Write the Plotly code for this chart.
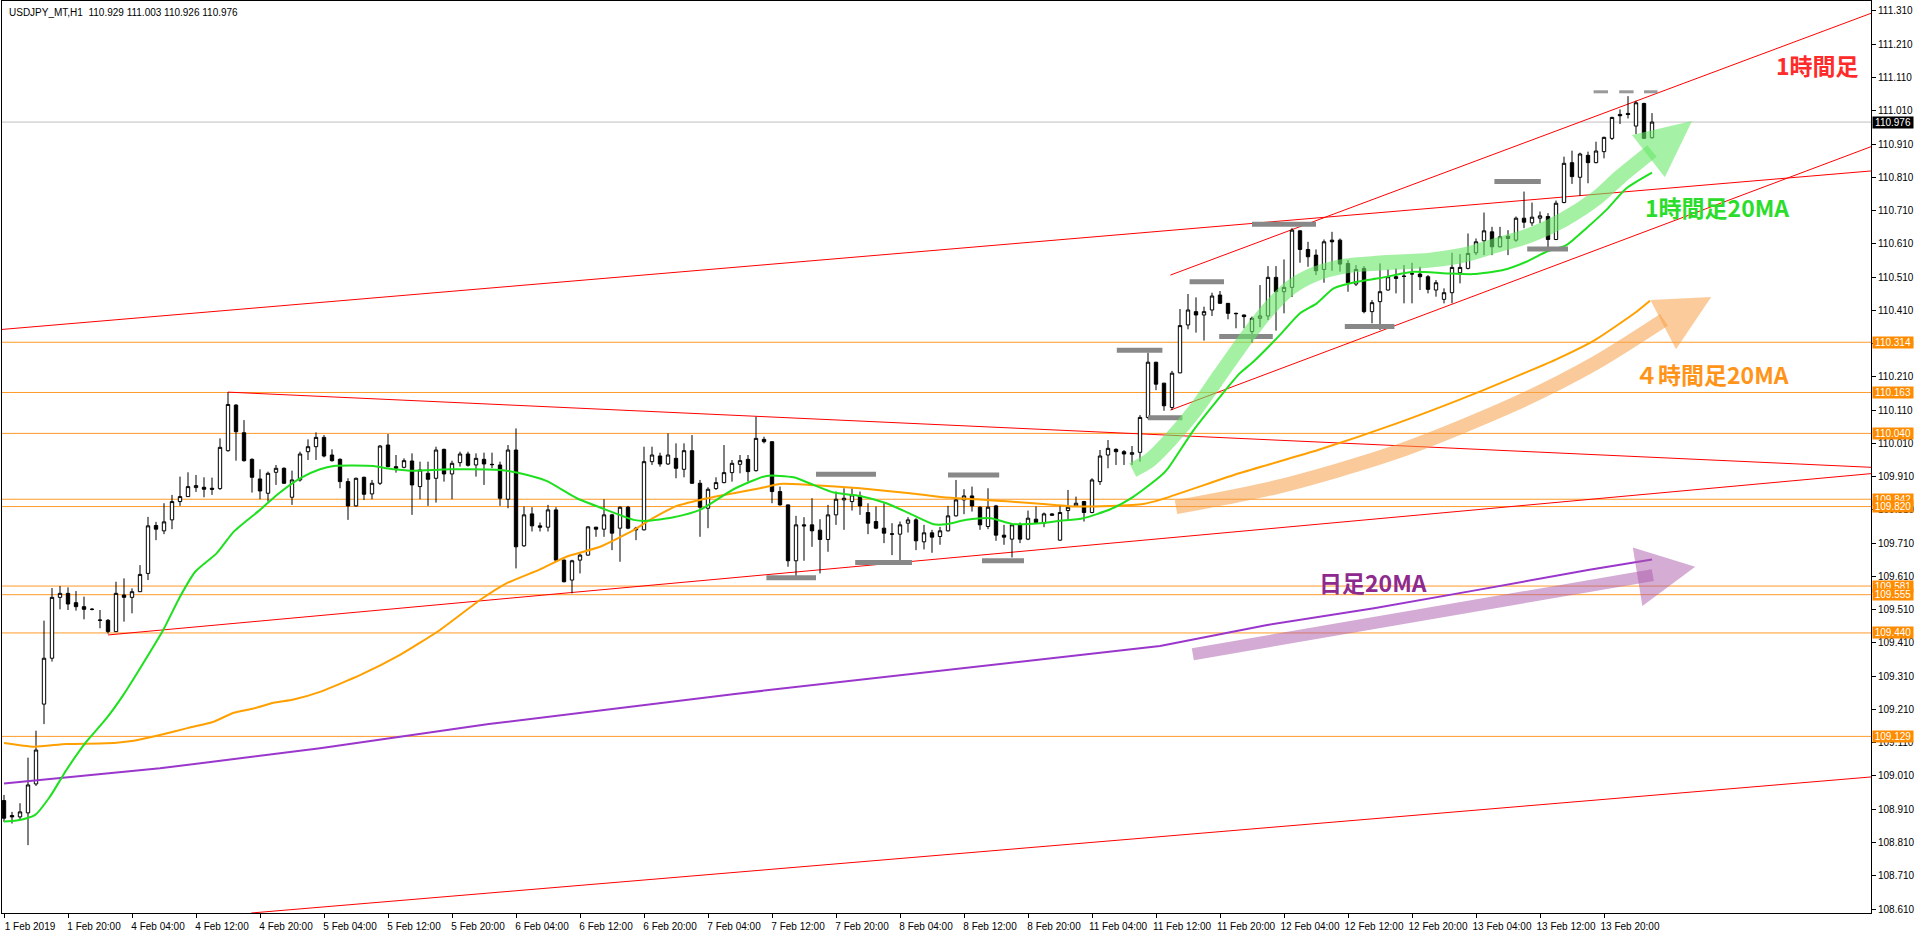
import plotly.graph_objects as go

# ---------------- data ----------------
opens = [108.936,108.891,108.887,108.899,108.986,109.226,109.364,109.547,109.559,109.531,
109.519,109.511,109.479,109.478,109.444,109.554,109.547,109.564,109.619,109.763,
109.747,109.780,109.835,109.850,109.877,109.878,109.875,109.874,109.988,110.125,
110.042,109.962,109.903,109.860,109.923,109.935,109.848,109.900,109.985,110.000,
110.028,109.975,109.962,109.895,109.822,109.908,109.858,109.890,110.005,109.940,
109.938,109.957,109.880,109.920,109.905,109.992,109.918,109.952,109.978,109.945,
109.962,109.947,109.945,109.842,109.990,109.702,109.798,109.762,109.758,109.810,
109.659,109.599,109.659,109.674,109.758,109.752,109.795,109.755,109.818,109.755,
109.750,109.955,109.972,109.948,109.965,109.932,109.988,109.890,109.815,109.874,
109.892,109.922,109.947,109.962,109.928,110.022,110.015,109.865,109.825,109.657,
109.765,109.765,109.749,109.721,109.795,109.840,109.835,109.852,109.802,109.775,
109.755,109.738,109.737,109.770,109.780,109.714,109.741,109.730,109.747,109.792,
109.840,109.852,109.818,109.760,109.822,109.734,109.722,109.765,109.722,109.782,
109.770,109.798,109.719,109.808,109.822,109.835,109.802,109.895,109.975,109.992,
109.985,109.977,109.983,110.088,110.254,110.191,110.118,110.222,110.366,110.406,
110.396,110.411,110.456,110.431,110.401,110.396,110.346,110.386,110.393,110.509,
110.466,110.479,110.649,110.593,110.576,110.533,110.621,110.621,110.551,110.489,
110.536,110.406,110.436,110.471,110.511,110.513,110.519,110.519,110.511,110.471,
110.443,110.463,110.523,110.536,110.583,110.619,110.646,110.601,110.633,110.621,
110.687,110.673,110.687,110.692,110.623,110.734,110.854,110.810,110.876,110.854,
110.887,110.927,110.999,111.002,110.964,111.032,110.929]
highs = [108.953,108.902,108.928,109.065,109.146,109.477,109.575,109.581,109.577,109.566,
109.549,109.515,109.509,109.482,109.594,109.604,109.574,109.644,109.789,109.774,
109.830,109.855,109.910,109.923,109.915,109.908,109.907,110.025,110.164,110.128,
110.080,109.965,109.932,109.925,109.945,109.938,109.928,109.985,110.022,110.043,
110.035,109.992,109.965,109.905,109.907,109.910,109.900,110.005,110.038,109.975,
109.965,109.980,109.955,109.955,110.000,109.994,109.958,109.985,109.985,109.980,
109.982,109.982,109.955,110.005,110.055,109.820,109.818,109.772,109.825,109.818,
109.661,109.660,109.679,109.761,109.759,109.842,109.798,109.820,109.822,109.759,
110.000,110.000,109.982,110.040,110.010,110.010,110.035,109.900,109.878,109.908,
110.005,109.960,109.975,109.975,110.090,110.030,110.016,109.880,109.826,109.792,
109.788,109.845,109.782,109.825,109.865,109.875,109.875,109.865,109.830,109.820,
109.830,109.770,109.775,109.788,109.785,109.765,109.750,109.759,109.822,109.900,
109.872,109.880,109.820,109.875,109.825,109.765,109.767,109.772,109.808,109.820,
109.802,109.800,109.825,109.870,109.850,109.837,109.905,109.990,110.020,109.995,
109.990,110.002,110.095,110.283,110.255,110.192,110.228,110.414,110.459,110.449,
110.421,110.463,110.468,110.432,110.403,110.397,110.391,110.486,110.543,110.543,
110.563,110.657,110.651,110.616,110.593,110.623,110.646,110.626,110.561,110.546,
110.543,110.441,110.551,110.533,110.536,110.546,110.553,110.541,110.516,110.501,
110.476,110.583,110.579,110.641,110.626,110.704,110.661,110.661,110.651,110.692,
110.767,110.734,110.707,110.702,110.740,110.872,110.890,110.884,110.887,110.917,
110.932,110.992,111.014,111.054,111.040,111.034,111.003]
lows = [108.872,108.867,108.878,108.802,108.980,109.166,109.354,109.511,109.509,109.507,
109.481,109.508,109.454,109.438,109.444,109.474,109.499,109.564,109.599,109.719,
109.737,109.752,109.822,109.850,109.864,109.848,109.855,109.870,109.985,109.958,
109.955,109.862,109.842,109.835,109.885,109.888,109.825,109.895,109.960,109.960,
109.968,109.955,109.875,109.780,109.820,109.840,109.842,109.885,109.938,109.922,
109.935,109.795,109.842,109.822,109.832,109.895,109.842,109.940,109.940,109.910,
109.885,109.935,109.822,109.815,109.634,109.699,109.745,109.745,109.745,109.654,
109.592,109.559,109.619,109.672,109.729,109.729,109.689,109.654,109.752,109.719,
109.748,109.945,109.940,109.945,109.905,109.908,109.888,109.729,109.755,109.870,
109.890,109.895,109.920,109.895,109.925,110.010,109.830,109.823,109.639,109.609,
109.657,109.699,109.619,109.684,109.765,109.750,109.808,109.795,109.737,109.752,
109.710,109.674,109.647,109.742,109.689,109.691,109.681,109.705,109.745,109.790,
109.797,109.805,109.750,109.752,109.717,109.705,109.667,109.710,109.719,109.770,
109.758,109.792,109.717,109.780,109.820,109.775,109.800,109.885,109.935,109.945,
109.945,109.945,109.955,110.083,110.170,110.108,110.110,110.221,110.353,110.343,
110.319,110.393,110.430,110.383,110.356,110.356,110.313,110.359,110.381,110.349,
110.401,110.450,110.553,110.541,110.516,110.493,110.529,110.526,110.466,110.483,
110.401,110.371,110.351,110.469,110.461,110.431,110.431,110.471,110.461,110.451,
110.431,110.431,110.491,110.533,110.576,110.576,110.576,110.599,110.576,110.616,
110.657,110.664,110.672,110.596,110.621,110.732,110.790,110.754,110.792,110.852,
110.867,110.922,110.970,110.987,110.940,110.925,110.926]
closes = [108.883,108.887,108.902,108.983,109.088,109.364,109.547,109.559,109.527,109.519,
109.511,109.511,109.478,109.444,109.559,109.547,109.564,109.616,109.762,109.752,
109.774,109.835,109.850,109.880,109.883,109.872,109.872,109.998,110.127,110.045,
109.958,109.908,109.867,109.920,109.935,109.890,109.900,109.978,110.000,110.028,
109.972,109.958,109.895,109.822,109.905,109.857,109.890,110.002,109.940,109.935,
109.958,109.885,109.930,109.902,109.990,109.918,109.950,109.978,109.944,109.965,
109.948,109.946,109.845,109.990,109.699,109.795,109.762,109.758,109.810,109.659,
109.594,109.657,109.674,109.759,109.752,109.795,109.740,109.818,109.755,109.750,
109.955,109.975,109.948,109.975,109.935,109.988,109.890,109.818,109.872,109.892,
109.922,109.950,109.958,109.925,110.025,110.015,109.865,109.825,109.657,109.765,
109.762,109.747,109.721,109.795,109.842,109.845,109.855,109.822,109.770,109.755,
109.740,109.737,109.765,109.780,109.717,109.741,109.728,109.747,109.792,109.840,
109.852,109.822,109.765,109.818,109.734,109.728,109.765,109.722,109.785,109.772,
109.798,109.794,109.802,109.818,109.830,109.802,109.900,109.972,109.995,109.985,
109.978,109.982,110.088,110.254,110.188,110.123,110.221,110.364,110.411,110.396,
110.406,110.453,110.431,110.401,110.400,110.391,110.386,110.393,110.509,110.466,
110.479,110.651,110.593,110.571,110.529,110.616,110.616,110.549,110.493,110.533,
110.406,110.433,110.466,110.511,110.506,110.512,110.520,110.511,110.473,110.493,
110.463,110.539,110.539,110.581,110.616,110.649,110.601,110.631,110.626,110.687,
110.675,110.690,110.694,110.623,110.732,110.852,110.812,110.880,110.854,110.889,
110.930,110.990,110.995,110.999,111.034,110.927,110.976]
bar_index = list(range(len(opens)))

time_labels = ["1 Feb 2019", "1 Feb 20:00", "4 Feb 04:00", "4 Feb 12:00", "4 Feb 20:00",
               "5 Feb 04:00", "5 Feb 12:00", "5 Feb 20:00", "6 Feb 04:00", "6 Feb 12:00",
               "6 Feb 20:00", "7 Feb 04:00", "7 Feb 12:00", "7 Feb 20:00", "8 Feb 04:00",
               "8 Feb 12:00", "8 Feb 20:00", "11 Feb 04:00", "11 Feb 12:00", "11 Feb 20:00",
               "12 Feb 04:00", "12 Feb 12:00", "12 Feb 20:00", "13 Feb 04:00", "13 Feb 12:00",
               "13 Feb 20:00"]
time_label_bars = [8 * i for i in range(len(time_labels))]

# 1H 20MA (green)
ma1h_bar = [0, 1.6, 3.9, 5.75, 7.8, 10.3, 12.8, 14.9, 17.4, 19.9, 22, 23.9, 26.6, 28.7, 32,
            34.1, 37, 39.5, 41.2, 46.2, 47.8, 50.75, 55.75, 62, 64.5, 67.8, 71.6, 75.3, 78.7,
            80.3, 83.7, 87, 91.2, 95.3, 98.7, 101.2, 103.7, 107, 110.3, 113.3, 116.2, 117.8,
            120.3, 123.3, 126.2, 129.5, 132, 134.9, 138.3, 141.2, 144.5, 145.5, 148.7, 152,
            154.4, 156.2, 159.5, 162, 164.1, 166.2, 169.1, 172, 176.2, 180.3, 183.7, 187.4,
            190.3, 192.8, 195.3, 197.8, 200.3, 202.8, 206]
ma1h_val = [108.873, 108.876, 108.893, 108.948, 109.028, 109.113, 109.183, 109.253, 109.349,
            109.449, 109.549, 109.624, 109.680, 109.744, 109.810, 109.855, 109.905, 109.932,
            109.942, 109.942, 109.935, 109.928, 109.932, 109.930, 109.920, 109.897, 109.845,
            109.810, 109.780, 109.777, 109.788, 109.810, 109.872, 109.912, 109.908, 109.885,
            109.862, 109.852, 109.830, 109.798, 109.767, 109.767, 109.780, 109.785, 109.767,
            109.770, 109.777, 109.785, 109.812, 109.850, 109.910, 109.935, 110.050, 110.150,
            110.219, 110.256, 110.336, 110.401, 110.431, 110.476, 110.496, 110.507, 110.526,
            110.521, 110.519, 110.531, 110.556, 110.586, 110.606, 110.657, 110.712, 110.777,
            110.824]
# 4H 20MA (orange)
ma4h_bar = [0, 3.7, 7.8, 12.8, 16.2, 19.5, 22.8, 26.2, 28.7, 31.2, 33.7, 36.2, 39.5, 44.5,
            49.5, 54.5, 59.5, 62.8, 67, 70.3, 74.5, 78.7, 80.75, 84.1, 87, 91.2, 94.5, 97,
            100.75, 107, 113.25, 117.4, 121.6, 125.75, 129.9, 134.1, 138.25, 142.4, 144.5,
            154.4, 164.25, 174.1, 184, 193.9, 198.9, 203.8, 205.75]
ma4h_val = [109.109, 109.098, 109.106, 109.108, 109.116, 109.133, 109.153, 109.173, 109.200,
            109.213, 109.230, 109.240, 109.263, 109.313, 109.374, 109.449, 109.539, 109.589,
            109.631, 109.669, 109.699, 109.749, 109.780, 109.822, 109.840, 109.860, 109.875,
            109.888, 109.885, 109.875, 109.860, 109.848, 109.842, 109.835, 109.828, 109.820,
            109.822, 109.828, 109.840, 109.920, 109.990, 110.070, 110.161, 110.261, 110.321,
            110.401, 110.439]
# Daily 20MA (purple)
ma1d_bar = [0, 19.5, 39.5, 60.6, 91.1, 121.75, 144.5, 157.9, 171.25, 184.6, 198, 206]
ma1d_val = [108.987, 109.033, 109.093, 109.166, 109.256, 109.338, 109.401, 109.464, 109.514,
            109.571, 109.629, 109.661]

level_prices = [110.314, 110.163, 110.040, 109.842, 109.820, 109.581, 109.555, 109.440, 109.129]
last_price = 110.976
ohlc_header = "USDJPY_MT,H1\u00a0\u00a0110.929 111.003 110.926 110.976"

# trend lines: (bar0, price0, bar1, price1)
trend_lines = [
    (-0.5, 110.352, 233.375, 110.829),
    (30.9, 108.598, 233.375, 109.007),
    (145.8, 110.516, 233.375, 111.303),
    (145.8, 110.110, 233.375, 110.902),
    (28, 110.164, 233.375, 109.938),
    (13, 109.434, 233.375, 109.919),
]
# support / resistance marks: (bar0, bar1, price)
sr_marks = [(101.5, 109, 109.917), (118, 124.4, 109.915), (106.4, 113.5, 109.652),
            (122.25, 127.5, 109.657), (95.3, 101.5, 109.606), (139.1, 144.8, 110.290),
            (143, 147.3, 110.087), (148.2, 152.5, 110.496), (151.9, 158.6, 110.331),
            (156, 164, 110.669), (167.6, 173.8, 110.361), (186.3, 192.1, 110.797),
            (190.4, 195.5, 110.594)]
top_marks = [(198.7, 200.5, 111.067), (201.9, 203.7, 111.067), (205, 206.7, 111.067)]

# hand-drawn arrows
green_arrow_bar = [141.1, 143.25, 145.75, 148.9, 152, 155.1, 158, 160.75, 163.9, 167.6, 172,
                   178.25, 182.4, 186.6, 190.75, 194.9, 199.1, 202, 206]
green_arrow_val = [109.930, 109.960, 110.020, 110.110, 110.216, 110.321, 110.411, 110.477,
                   110.519, 110.543, 110.552, 110.561, 110.576, 110.606, 110.636, 110.682,
                   110.748, 110.811, 110.889]
green_head_bar = [203.5, 211, 207.6]
green_head_val = [110.937, 110.979, 110.810]
orange_arrow_bar = [146.5, 159.3, 174.15, 189, 198.9, 207.5]
orange_arrow_val = [109.818, 109.880, 109.985, 110.130, 110.251, 110.381]
orange_head_bar = [205.8, 213.4, 209]
orange_head_val = [110.441, 110.450, 110.293]
purple_arrow_bar = [148.6, 206.1]
purple_arrow_val = [109.376, 109.614]
purple_head_bar = [203.6, 211.4, 204.8]
purple_head_val = [109.697, 109.639, 109.521]

# ---------------- figure ----------------
fig = go.Figure()

fig.add_trace(go.Candlestick(
    x=bar_index, open=opens, high=highs, low=lows, close=closes,
    increasing=dict(line=dict(color="black", width=1), fillcolor="white"),
    decreasing=dict(line=dict(color="black", width=1), fillcolor="black"),
    whiskerwidth=0, hoverinfo="skip"))

fig.add_trace(go.Scatter(x=ma1d_bar, y=ma1d_val, mode="lines",
                         line=dict(color="#9A36CC", width=2), hoverinfo="skip"))
fig.add_trace(go.Scatter(x=ma4h_bar, y=ma4h_val, mode="lines",
                         line=dict(color="#FFA000", width=2, shape="spline", smoothing=0.5),
                         hoverinfo="skip"))
fig.add_trace(go.Scatter(x=ma1h_bar, y=ma1h_val, mode="lines",
                         line=dict(color="#1EE01E", width=2, shape="spline", smoothing=0.6),
                         hoverinfo="skip"))

def seg_xy(marks):
    xs, ys = [], []
    for b0, b1, p in marks:
        xs += [b0, b1, None]
        ys += [p, p, None]
    return xs, ys

mx, my = seg_xy(sr_marks)
fig.add_trace(go.Scatter(x=mx, y=my, mode="lines", line=dict(color="#888888", width=5),
                         hoverinfo="skip"))
tx, ty = seg_xy(top_marks)
fig.add_trace(go.Scatter(x=tx, y=ty, mode="lines", line=dict(color="#999999", width=3),
                         hoverinfo="skip"))

def arrow(bx, by, hx, hy, color, width, op):
    fig.add_trace(go.Scatter(x=bx, y=by, mode="lines", opacity=op,
                             line=dict(color=color, width=width, shape="spline", smoothing=0.8),
                             hoverinfo="skip"))
    fig.add_trace(go.Scatter(x=hx + [hx[0]], y=hy + [hy[0]], mode="lines", fill="toself",
                             fillcolor=color, opacity=op, line=dict(width=0, color=color),
                             hoverinfo="skip"))

arrow(green_arrow_bar, green_arrow_val, green_head_bar, green_head_val, "rgb(105,232,105)", 15, 0.6)
arrow(orange_arrow_bar, orange_arrow_val, orange_head_bar, orange_head_val, "rgb(247,160,72)", 14, 0.55)
arrow(purple_arrow_bar, purple_arrow_val, purple_head_bar, purple_head_val, "rgb(170,90,170)", 12, 0.5)

shapes = []
for p in level_prices:
    shapes.append(dict(type="line", xref="paper", x0=0, x1=1, yref="y", y0=p, y1=p,
                       line=dict(color="#FF9A28", width=1), layer="below"))
shapes.append(dict(type="line", xref="paper", x0=0, x1=1, yref="y", y0=last_price, y1=last_price,
                   line=dict(color="#C0C0C0", width=1), layer="below"))
for b0, p0, b1, p1 in trend_lines:
    shapes.append(dict(type="line", xref="x", yref="y", x0=b0, y0=p0, x1=b1, y1=p1,
                       line=dict(color="#FF0000", width=1), layer="below"))

annotations = [
    dict(text=ohlc_header, xref="paper", yref="paper", x=0, y=1, xanchor="left", yanchor="top",
         xshift=5, yshift=-4, showarrow=False,
         font=dict(family="Liberation Sans", size=10, color="black")),
]
for p in level_prices:
    annotations.append(dict(text=f"{p:.3f}", xref="paper", x=1, xanchor="left", xshift=1,
                            yref="y", y=p, yanchor="middle", showarrow=False,
                            bgcolor="#FF8C00", width=40, height=11, borderpad=0,
                            font=dict(family="Liberation Sans", size=10, color="white")))
annotations.append(dict(text=f"{last_price:.3f}", xref="paper", x=1, xanchor="left", xshift=1,
                        yref="y", y=last_price, yanchor="middle", showarrow=False,
                        bgcolor="black", width=40, height=11, borderpad=0,
                        font=dict(family="Liberation Sans", size=10, color="white")))

jp_font = "Noto Sans CJK JP"
labels = [
    ("1時間足", 221.25, 111.148, "#FF2A2A"),
    ("1時間足20MA", 204.9, 110.721, "#2BDD2B"),
    ("４時間足20MA", 203.6, 110.220, "#FF9418"),
    ("日足20MA", 164.1, 109.594, "#8E2A8E"),
]
for t, b, p, c in labels:
    annotations.append(dict(text=f"<b>{t}</b>", x=b, y=p, xref="x", yref="y", xanchor="left",
                            yanchor="middle", showarrow=False,
                            font=dict(family=jp_font, size=23, color=c)))

tick_font = dict(family="Liberation Sans", size=10, color="black")
fig.update_layout(
    width=1916, height=933,
    margin=dict(l=2, r=45, t=1, b=20),
    plot_bgcolor="white", paper_bgcolor="white",
    showlegend=False, boxgap=0.4,
    shapes=shapes, annotations=annotations,
    xaxis=dict(range=[-0.25, 233.375], tickmode="array", tickvals=time_label_bars,
               ticktext=time_labels, ticks="outside", ticklen=4, tickcolor="black",
               showgrid=False, zeroline=False, showline=True, linecolor="black",
               linewidth=1, mirror=True, rangeslider=dict(visible=False),
               tickfont=tick_font, ticklabelshift=26, fixedrange=True),
    yaxis=dict(side="right", range=[108.598, 111.340], tick0=108.61, dtick=0.1,
               tickformat=".3f", ticks="outside", ticklen=4, tickcolor="black",
               showgrid=False, zeroline=False, showline=True, linecolor="black",
               linewidth=1, mirror=True, tickfont=tick_font, fixedrange=True),
)

fig.write_html("out.html", config={"displayModeBar": False},
               post_script="document.body.style.margin='0';document.body.style.overflow='hidden';")
